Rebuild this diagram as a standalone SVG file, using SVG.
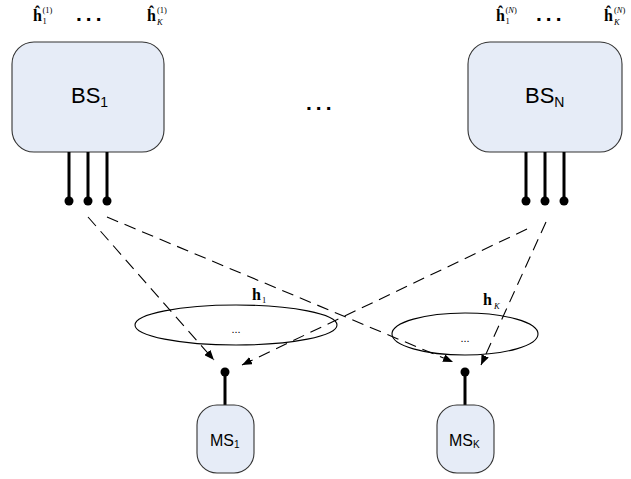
<svg xmlns="http://www.w3.org/2000/svg" width="631" height="479" viewBox="0 0 631 479">
<style>
.box{fill:#e6ecf7;stroke:#333;stroke-width:1.1}
.ant{stroke:#000;stroke-width:3;fill:none}
.dot{fill:#000}
.ell{fill:none;stroke:#000;stroke-width:1.1}
.dash{stroke:#000;stroke-width:1.1;fill:none;stroke-dasharray:12,7;marker-end:url(#ah)}
.lbl{font-family:"Liberation Sans",Arial,sans-serif;fill:#000}
.hh{font-family:"Liberation Serif","Times New Roman",serif;font-weight:bold;font-size:16px;fill:#000}
.sm{font-family:"Liberation Serif","Times New Roman",serif;font-size:8.5px;fill:#000}
.it{font-style:italic}
.dots{font-family:"Liberation Sans",Arial,sans-serif;font-weight:bold;font-size:21px;letter-spacing:4px;fill:#000}
.edots{font-family:"Liberation Sans",Arial,sans-serif;font-size:11px;fill:#000}
</style>
<defs>
<marker id="ah" markerUnits="userSpaceOnUse" markerWidth="10" markerHeight="8" refX="10" refY="4" orient="auto">
<path d="M0,0 L10,4 L0,8 z" fill="#000"/>
</marker>
</defs>

<g id="labels-bs1">
<text class="hh" x="33" y="21">ĥ</text><text class="sm" x="42.5" y="24">1</text><text class="sm" x="42.5" y="13">(1)</text>
<text class="dots" x="76" y="21">...</text>
<text class="hh" x="147" y="21">ĥ</text><text class="sm it" x="157" y="25">K</text><text class="sm" x="157" y="13">(1)</text>
</g>
<g id="labels-bsn">
<text class="hh" x="496" y="21">ĥ</text><text class="sm" x="505.5" y="24">1</text><text class="sm" x="505.5" y="13">(<tspan class="it">N</tspan>)</text>
<text class="dots" x="536" y="21">...</text>
<text class="hh" x="604" y="21">ĥ</text><text class="sm it" x="614" y="25">K</text><text class="sm" x="614" y="13">(<tspan class="it">N</tspan>)</text>
</g>

<g id="bs1">
<rect class="box" x="12" y="42" width="152" height="110" rx="22" ry="22"/>
<text class="lbl" x="71" y="103" font-size="22">BS<tspan font-size="14" dy="4">1</tspan></text>
<line class="ant" x1="69" y1="152" x2="69" y2="200"/>
<line class="ant" x1="88" y1="152" x2="88" y2="200"/>
<line class="ant" x1="107" y1="152" x2="107" y2="200"/>
<circle class="dot" cx="69" cy="201" r="4.5"/>
<circle class="dot" cx="88" cy="201" r="4.5"/>
<circle class="dot" cx="107" cy="201" r="4.5"/>
</g>

<g id="middots">
<text class="dots" x="306" y="110">...</text>
</g>

<g id="bsn">
<rect class="box" x="468" y="42" width="154" height="110" rx="22" ry="22"/>
<text class="lbl" x="525" y="103" font-size="22">BS<tspan font-size="14" dy="4">N</tspan></text>
<line class="ant" x1="526" y1="152" x2="526" y2="200"/>
<line class="ant" x1="545" y1="152" x2="545" y2="200"/>
<line class="ant" x1="564" y1="152" x2="564" y2="200"/>
<circle class="dot" cx="526" cy="201" r="4.5"/>
<circle class="dot" cx="545" cy="201" r="4.5"/>
<circle class="dot" cx="564" cy="201" r="4.5"/>
</g>

<g id="cluster1">
<ellipse class="ell" cx="236" cy="325" rx="101" ry="20"/>
<text class="edots" x="236" y="333" text-anchor="middle">...</text>
<text class="hh" x="252" y="300">h</text><text class="sm" x="262" y="303">1</text>
</g>

<g id="clusterK">
<ellipse class="ell" cx="465" cy="334" rx="73" ry="21"/>
<text class="edots" x="465" y="342" text-anchor="middle">...</text>
<text class="hh" x="483" y="305">h</text><text class="sm it" x="494" y="309">K</text>
</g>

<g id="ms1">
<line class="ant" x1="225" y1="372" x2="225" y2="405"/>
<circle class="dot" cx="225" cy="372" r="4.5"/>
<rect class="box" x="197" y="405" width="57" height="68" rx="20" ry="20"/>
<text class="lbl" x="210" y="446" font-size="16">MS<tspan font-size="10" dy="2">1</tspan></text>
</g>

<g id="msK">
<line class="ant" x1="465" y1="372" x2="465" y2="405"/>
<circle class="dot" cx="465" cy="372" r="4.5"/>
<rect class="box" x="437" y="405" width="57" height="68" rx="20" ry="20"/>
<text class="lbl" x="449" y="446" font-size="16">MS<tspan font-size="10" dy="2">K</tspan></text>
</g>

<g id="connectors">
<line class="dash" x1="88" y1="217" x2="214" y2="360"/>
<line class="dash" x1="107" y1="217" x2="453" y2="362"/>
<line class="dash" x1="527" y1="229" x2="242" y2="365"/>
<line class="dash" x1="546" y1="222" x2="481" y2="365"/>
</g>
</svg>
